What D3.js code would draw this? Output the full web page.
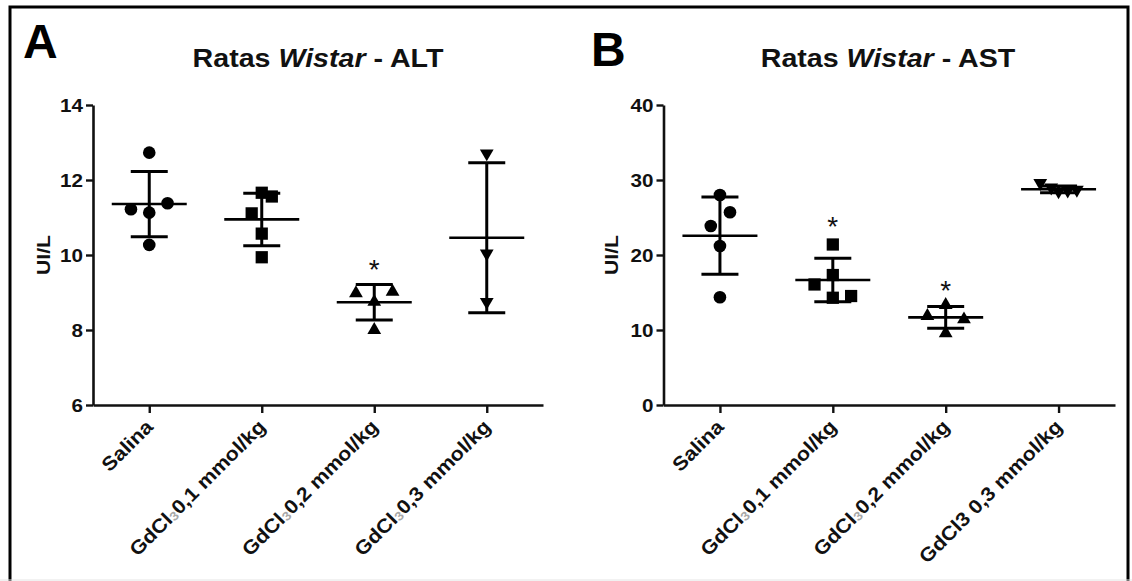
<!DOCTYPE html>
<html><head><meta charset="utf-8">
<script src="https://cdn.jsdelivr.net/npm/d3@7"></script>
<style>body{margin:0;background:#fff}svg{display:block}</style>
</head><body><svg id="c" width="1132" height="581"></svg>
<script>
// ---------- data ----------
const categoriesALT = ["Salina", "GdCl₃0,1 mmol/kg", "GdCl₃0,2 mmol/kg", "GdCl₃0,3 mmol/kg"];
const categoriesAST = ["Salina", "GdCl₃0,1 mmol/kg", "GdCl₃0,2 mmol/kg", "GdCl3 0,3 mmol/kg"];

const altSalina = [12.73, 11.22, 11.13, 11.38, 10.27];
const altGd01   = [11.66, 11.56, 11.11, 10.57, 9.94];
const altGd02   = [8.98, 9.02, 8.75, 8.0];
const altGd03   = [12.71, 10.04, 8.75];
const altMean   = [11.36, 10.95, 8.74, 10.46];
const altSD     = [0.87, 0.70, 0.475, 2.0];
const altStars  = [null, null, 9.8, null];
const altTicks  = [6, 8, 10, 12, 14];

const astSalina = [28.0, 25.7, 23.87, 21.2, 14.36];
const astGd01   = [21.4, 17.33, 16.07, 14.3, 14.53];
const astGd02   = [11.87, 13.33, 11.42, 9.56];
const astGd03   = [29.6, 29.0, 28.7, 28.5, 28.6];
const astMean   = [22.57, 16.67, 11.69, 28.76];
const astSD     = [5.15, 2.89, 1.45, 0.45];
const astStars  = [null, 24.67, 16.1, null];
const astTicks  = [0, 10, 20, 30, 40];

// horizontal spread of overlapping points (in units of one marker step)
const altJitter = [[0, -1, 0, 1, 0], [0, 0.55, -0.55, 0, 0], [-1, 1, 0, 0], [0, 0, 0]];
const astJitter = [[0, 0.55, -0.5, 0, 0], [0, 0, -1, 0, 1], [-1, 0, 1, 0], [-1, -0.4, 1, 0, 0.5]];

// ---------- drawing ----------
const svg = d3.select("#c");
const FONT = "'Liberation Sans', Arial, sans-serif";
const INK = "#111";

// outer frame
svg.append("rect").attr("x", 10).attr("y", 7).attr("width", 1118).attr("height", 600)
  .attr("fill", "none").attr("stroke", "#000").attr("stroke-width", 3);
svg.append("line").attr("x1", 0).attr("x2", 1132).attr("y1", 580).attr("y2", 580)
  .attr("stroke", "#e4e4e4").attr("stroke-width", 1);

const markers = [d3.symbolCircle, d3.symbolSquare, d3.symbolTriangle, d3.symbolTriangle];
const markerSize = [125, 150, 82, 82];
const markerRot = [0, 0, 0, 180];

function scaledText(parent, x, y, sx, rot) {
  const g = parent.append("g").attr("transform", `translate(${x},${y})` + (rot ? ` rotate(${rot})` : ""));
  return g.append("text").attr("transform", `scale(${sx},1)`);
}

function panel(o) {
  const g = svg.append("g");
  const x = d3.scalePoint().domain(o.cats).range([o.x0, o.x1]).padding(0.5);
  const y = d3.scaleLinear().domain([o.ticks[0], o.ticks[o.ticks.length - 1]]).range([405, 105]);

  // y axis
  const ya = g.append("g").attr("transform", `translate(${o.x0},0)`)
    .call(d3.axisLeft(y).tickValues(o.ticks).tickSize(7).tickSizeOuter(0).tickPadding(3));
  ya.select(".domain").attr("stroke", INK).attr("stroke-width", 2.6);
  ya.selectAll(".tick line").attr("stroke", INK).attr("stroke-width", 2.4);
  ya.selectAll(".tick text").attr("x", 0).attr("dy", "0.36em")
    .attr("transform", "translate(-10,0) scale(1.18,1)")
    .attr("font-family", FONT).attr("font-weight", "bold").attr("font-size", 17.5).attr("fill", INK);

  // x axis
  const xa = g.append("g").attr("transform", "translate(0,405)")
    .call(d3.axisBottom(x).tickSize(8).tickSizeOuter(0).tickFormat(""));
  xa.select(".domain").attr("stroke", INK).attr("stroke-width", 2.6);
  xa.selectAll(".tick line").attr("stroke", INK).attr("stroke-width", 2.4);

  // x labels (rotated)
  o.cats.forEach(c => {
    const t = scaledText(g, x(c) + 5, 405 + 23, 1.1, -45)
      .attr("text-anchor", "end").attr("font-family", FONT).attr("font-weight", "bold")
      .attr("font-size", 19.5).attr("fill", INK);
    const parts = c.split("₃");
    if (parts.length === 1) { t.text(c); }
    else {
      t.append("tspan").text(parts[0]);
      t.append("tspan").text("3").attr("font-size", 12.5).attr("fill", "#a8a8a8").attr("dy", 1);
      t.append("tspan").text(parts[1]).attr("dy", -1);
    }
  });

  // y label
  scaledText(g, o.ylabX, 255, 1.12, -90).attr("text-anchor", "middle")
    .attr("font-family", FONT).attr("font-weight", "bold").attr("font-size", 19).attr("fill", INK)
    .text("UI/L");

  // title
  const tt = scaledText(g, o.titleX, 67, 1.1, 0).attr("text-anchor", "middle")
    .attr("font-family", FONT).attr("font-weight", "bold").attr("font-size", 26).attr("fill", INK);
  tt.append("tspan").text("Ratas ");
  tt.append("tspan").text("Wistar").attr("font-style", "italic");
  tt.append("tspan").text(" - " + o.enzyme);

  // panel letter
  g.append("text").attr("x", o.letterX).attr("y", o.letterY)
    .attr("font-family", FONT).attr("font-weight", "bold").attr("font-size", 48).attr("fill", "#000")
    .text(o.letter);

  const step = 18.3;
  o.cats.forEach((c, i) => {
    const cx = x(c);
    // points
    const sym = d3.symbol().type(markers[i]).size(markerSize[i]);
    g.append("g").selectAll("path").data(o.values[i]).join("path")
      .attr("d", sym)
      .attr("transform", (v, j) => `translate(${cx + o.jitter[i][j] * step},${y(v)}) rotate(${markerRot[i]})`)
      .attr("fill", "#000");
    // mean and SD
    const m = o.mean[i], s = o.sd[i];
    const eb = g.append("g").attr("stroke", "#000").attr("stroke-width", 3);
    eb.append("line").attr("x1", cx).attr("x2", cx).attr("y1", y(m - s)).attr("y2", y(m + s));
    eb.append("line").attr("x1", cx - 18.5).attr("x2", cx + 18.5).attr("y1", y(m + s)).attr("y2", y(m + s));
    eb.append("line").attr("x1", cx - 18.5).attr("x2", cx + 18.5).attr("y1", y(m - s)).attr("y2", y(m - s));
    eb.append("line").attr("x1", cx - 37.5).attr("x2", cx + 37.5).attr("y1", y(m)).attr("y2", y(m)).attr("stroke-width", 2.6);
    // significance star
    if (o.stars[i] != null) {
      g.append("text").attr("x", cx).attr("y", y(o.stars[i]) + 16).attr("text-anchor", "middle")
        .attr("font-family", FONT).attr("font-size", 28).attr("fill", INK).text("*");
    }
  });
}

panel({
  x0: 93, x1: 543, cats: categoriesALT, ticks: altTicks,
  values: [altSalina, altGd01, altGd02, altGd03], jitter: altJitter,
  mean: altMean, sd: altSD, stars: altStars,
  enzyme: "ALT", titleX: 318, letter: "A", letterX: 23, letterY: 58, ylabX: 50
});
panel({
  x0: 663.5, x1: 1115, cats: categoriesAST, ticks: astTicks,
  values: [astSalina, astGd01, astGd02, astGd03], jitter: astJitter,
  mean: astMean, sd: astSD, stars: astStars,
  enzyme: "AST", titleX: 888, letter: "B", letterX: 591, letterY: 66, ylabX: 618
});
</script></body></html>
